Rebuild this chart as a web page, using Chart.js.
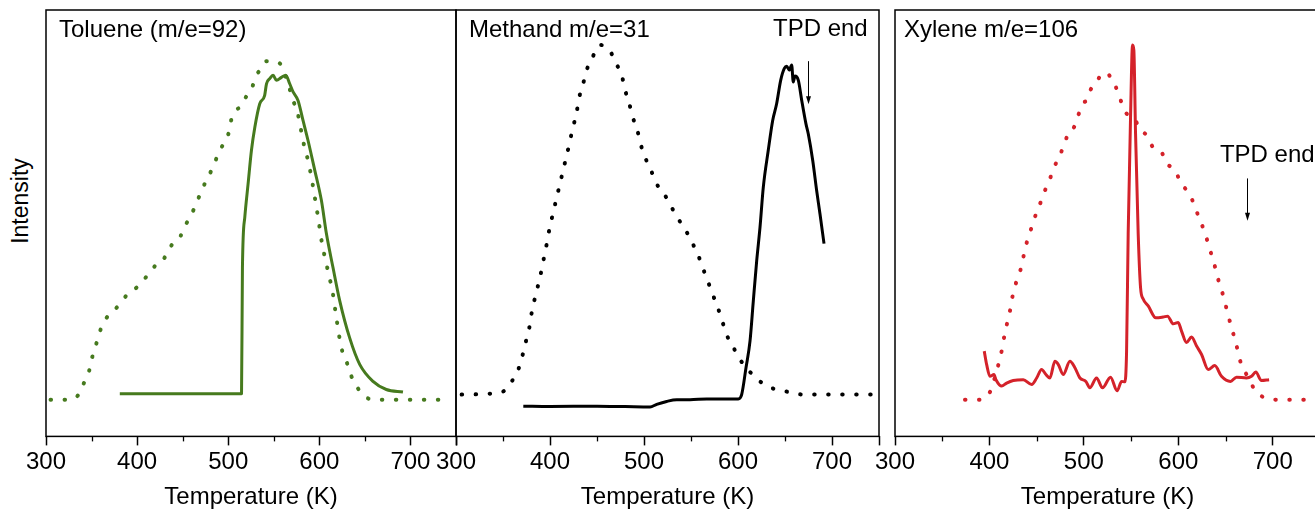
<!DOCTYPE html>
<html lang="en">
<head>
<meta charset="UTF-8" />
<title>TPD profiles</title>
<script src="https://cdn.jsdelivr.net/npm/chart.js"></script>
<style>
  html, body { margin: 0; padding: 0; background: #fff; overflow: hidden; }
  body { width: 1315px; height: 512px; position: relative; font-family: 'Liberation Sans', Arial, sans-serif; }
  canvas { position: absolute; top: 0; }
  #p1 { left: 0; }
  #p2 { left: 430px; }
  #p3 { left: 870px; }
  .ylabel {
    position: absolute; left: 20px; top: 201px;
    transform: translate(-50%, -50%) rotate(-90deg);
    font-size: 23px; white-space: nowrap; color: #000;
  }
</style>
</head>
<body>
<div class="ylabel">Intensity</div>
<canvas id="p1" width="480" height="512"></canvas>
<canvas id="p2" width="470" height="512"></canvas>
<canvas id="p3" width="480" height="512"></canvas>

<script>
// x axis ticks (K)
const majorTicks = [300, 400, 500, 600, 700, 750];
const minorTicks = [350, 450, 550, 650];

// Toluene (m/e=92)
const toluDotT = [305, 325, 335, 342, 347.5, 351, 355.6, 360, 366.5, 373.8, 381, 388.5, 399.4, 406.7, 414, 421.4, 428, 434, 441.4, 447.7, 452.4, 456, 462.3, 468, 473.2, 479, 485.3, 490.8, 498, 501.8, 503.6, 509.8, 513.5, 520, 526.6, 531, 536.5, 542, 548.5, 555.8, 563.9, 571.2, 576, 582.9, 587.6, 591.3, 595, 598.6, 603.4, 607, 610.7, 614.4, 618.7, 624.2, 630.4, 635.2, 642.5, 652.4, 665, 738];
const toluDotI = [8.6, 8.6, 9.6, 12.7, 15.5, 18.8, 22, 25.1, 27.8, 29.4, 31, 33.1, 34.9, 36.6, 38.4, 40.4, 41.2, 43.5, 45.9, 47, 49.4, 50.6, 53.3, 56.2, 58.8, 61.2, 64.3, 67.1, 69.8, 72.2, 74.5, 76.7, 77.3, 79.8, 82.1, 84.7, 86.3, 88, 87.8, 87.6, 83.9, 78.8, 76, 68.6, 64.7, 60.8, 56.1, 51.4, 44.7, 41.2, 37.6, 34.1, 27.8, 20.8, 17.2, 14.1, 11.2, 9, 8.6, 8.6];
const toluSolidT = [381, 514.6, 515.6, 518.2, 521.8, 525.5, 529.2, 534.6, 540, 542, 545.6, 549.2, 553, 558.4, 563.2, 567.5, 571.2, 576.6, 582.1, 587.6, 595, 602.3, 607.8, 615, 622.4, 633.3, 644.3, 658.9, 673.5, 691.8];
const toluSolidI = [10, 10, 39.6, 51.4, 59.2, 67.1, 72.5, 78, 80, 82.7, 83.9, 84.7, 83.5, 84.2, 84.7, 82.7, 80.8, 78.8, 74.1, 69.4, 62.4, 55.3, 47.5, 39.6, 31.8, 23.1, 16.9, 12.9, 11, 10.4];

// Methand m/e=31
const methDotT = [306, 348.6, 359.3, 366.3, 371, 374.5, 378, 380.5, 384, 387.6, 391.2, 394, 397.2, 400, 403.5, 407.1, 410.6, 414.2, 417.8, 421.3, 424.8, 428.4, 431.2, 435.5, 439, 445.4, 453.2, 463.8, 469.9, 476.3, 479.8, 484.4, 488, 492.9, 496.5, 501.1, 507.4, 513.5, 521.3, 529.4, 536.5, 544.7, 551.8, 557.8, 563.1, 568.4, 573.8, 579.1, 583.7, 588.6, 595.7, 602.9, 612, 623.4, 635.1, 650, 664.2, 676.6, 748];
const methDotI = [9.8, 10.4, 12.9, 15.7, 19.2, 22.4, 25.5, 29, 32.5, 35.7, 39.2, 42.4, 45.9, 49.4, 52.5, 56.1, 59.2, 62.7, 65.9, 69.4, 72.7, 76.1, 79.6, 82.9, 85.9, 89, 91.8, 90.4, 87.6, 84.7, 81.3, 78, 74.9, 71.8, 68.5, 65.5, 62.4, 59.2, 56.9, 53.7, 51, 48.2, 45.2, 42.4, 39.2, 36.1, 32.9, 29.8, 26.7, 23.5, 20.6, 17.8, 15.3, 12.9, 11.4, 10.6, 9.9, 9.8, 9.8];
const methSolidT = [371.6, 400, 450, 480, 506.4, 513.5, 524.1, 534.8, 549, 566.7, 600.3, 603.9, 608.5, 612.8, 616.3, 619.9, 623.4, 626.9, 632.2, 636.9, 641.1, 645.4, 649.3, 651.8, 654.6, 657.1, 658.8, 660.6, 664.2, 667.8, 672.3, 674.8, 679.5, 683.7, 687.2, 691.5];
const methSolidI = [7.1, 7.0, 7.1, 7.0, 6.9, 7.5, 8.2, 8.6, 8.6, 8.8, 8.8, 9.8, 16.1, 22.4, 31.8, 41.2, 49, 58.4, 67.1, 74.1, 78, 83.5, 86.3, 86.8, 85.9, 87.1, 83.1, 84.5, 83.5, 78.8, 73.3, 70.9, 64.7, 57.6, 52.2, 45.2];

// Xylene m/e=106
const xyleDotT = [374.1, 388.1, 400.5, 407.6, 412.9, 416.4, 421.7, 424.5, 428.8, 434.1, 437.6, 442.9, 448.1, 454.2, 458.7, 464, 469.3, 474.6, 479.9, 485.2, 488.7, 494, 499.3, 502.9, 507.1, 513.4, 520.4, 526.8, 533.9, 538.8, 545.2, 552.2, 559.3, 566.3, 573.3, 582.2, 586.8, 596.3, 603.4, 610.4, 615, 621, 628, 633.3, 637.6, 642.1, 647.4, 651.7, 656.3, 660.9, 665.1, 672.2, 681, 693.3, 709.2, 745];
const xyleDotI = [8.6, 8.6, 10.4, 15.3, 20, 24.3, 29.4, 32.9, 36.5, 40, 43.9, 47.8, 51.4, 54.9, 57.6, 60.4, 63.5, 65.9, 69, 71.8, 72.2, 75.3, 78.2, 78.8, 81.3, 83.1, 85.3, 84.7, 81.9, 78.9, 75.7, 74.9, 72.2, 70.6, 67.8, 66.7, 64.3, 62.4, 59.2, 57.3, 55.3, 51.8, 47.8, 43.9, 40.8, 36.9, 33.1, 29.4, 25.5, 22, 18, 14.5, 11, 8.9, 8.6, 8.6];
const xyleSolidT = [394.5, 397, 400.5, 404.8, 406.9, 412.9, 418.2, 425.2, 435.8, 444.7, 450, 455.2, 459.8, 464, 469.3, 472.8, 478.1, 485.2, 490.5, 495.8, 502.1, 506.3, 513.4, 519.7, 528.2, 535.2, 539.9, 543.4, 545.2, 546.9, 549.4, 551.5, 552.9, 554.7, 557.5, 560, 562.8, 568.1, 576.2, 584, 588.6, 594.6, 599.9, 603.4, 608.7, 614, 619.3, 624.6, 631.6, 638.6, 645.7, 655.2, 661.6, 672.2, 677.5, 682, 688, 696.1];
const xyleSolidI = [20, 16.9, 14.1, 14.5, 13.3, 11.8, 12.5, 13.1, 13.3, 12.2, 13.7, 15.7, 14.5, 13.7, 17.6, 16.9, 14.5, 17.6, 16.1, 13.7, 12.9, 11.4, 13.7, 11.4, 13.9, 10.7, 12.9, 12.8, 20, 47.5, 74.9, 91.8, 90.6, 71, 47.5, 34.9, 32.2, 30.6, 27.8, 28, 28.2, 26.4, 26.7, 24.7, 22, 23.3, 21.2, 19.2, 15.7, 16.6, 14.1, 12.9, 13.9, 13.7, 14.1, 15.1, 13.1, 13.3];

const FONT = "'Liberation Sans', Arial, sans-serif";
Chart.defaults.font.family = FONT;
Chart.defaults.font.size = 24;
Chart.defaults.color = '#000';

function pts(t, v) {
  return t.map((x, i) => ({ x: x, y: v[i] }));
}

function dotted(t, v, color) {
  return {
    data: pts(t, v), borderColor: color, borderWidth: 4,
    borderDash: [0.5, 13.5], borderCapStyle: 'round',
    pointRadius: 0, cubicInterpolationMode: 'monotone', fill: false
  };
}

function solid(t, v, color) {
  return {
    data: pts(t, v), borderColor: color, borderWidth: 3,
    pointRadius: 0, cubicInterpolationMode: 'monotone', fill: false,
    borderJoinStyle: 'round'
  };
}

// box round the plot area, minor ticks, panel label, "TPD end" arrow
const framePlugin = {
  id: 'frame',
  afterDraw(chart, args, opts) {
    const { ctx, chartArea: a } = chart;
    const xs = chart.scales.x, ys = chart.scales.y;
    ctx.save();
    ctx.strokeStyle = '#000';
    ctx.lineWidth = 1.5;
    ctx.strokeRect(a.left, a.top, a.right - a.left, a.bottom - a.top);

    ctx.lineWidth = 1.3;
    minorTicks.forEach(v => {
      const px = Math.round(xs.getPixelForValue(v)) + 0.5;
      ctx.beginPath();
      ctx.moveTo(px, a.bottom);
      ctx.lineTo(px, a.bottom + 5);
      ctx.stroke();
    });

    ctx.fillStyle = '#000';
    ctx.font = '24px ' + FONT;
    ctx.textBaseline = 'middle';
    ctx.textAlign = 'left';
    ctx.fillText(opts.label, a.left + opts.labelDx, a.top + 20);

    if (opts.tpd) {
      const t = opts.tpd;
      ctx.textAlign = t.align;
      ctx.fillText('TPD end', xs.getPixelForValue(t.textT), ys.getPixelForValue(t.textI));
      const ax = Math.round(xs.getPixelForValue(t.arrowT)) + 0.5;
      const y1 = ys.getPixelForValue(t.arrowFrom), y2 = ys.getPixelForValue(t.arrowTo);
      ctx.lineWidth = 1;
      ctx.beginPath();
      ctx.moveTo(ax, y1);
      ctx.lineTo(ax, y2 - 6);
      ctx.stroke();
      ctx.beginPath();
      ctx.moveTo(ax - 2.5, y2 - 8);
      ctx.lineTo(ax + 2.5, y2 - 8);
      ctx.lineTo(ax, y2);
      ctx.closePath();
      ctx.fill();
    }
    ctx.restore();
  }
};

function makePanel(id, datasets, padL, padR, frameOpts) {
  return new Chart(document.getElementById(id), {
    type: 'line',
    data: { datasets: datasets },
    plugins: [framePlugin],
    options: {
      responsive: false,
      animation: false,
      layout: { padding: { left: padL, right: padR, top: 10, bottom: 0 } },
      plugins: {
        legend: { display: false },
        tooltip: { enabled: false },
        frame: frameOpts
      },
      scales: {
        x: {
          type: 'linear', min: 300, max: 750,
          afterBuildTicks: s => { s.ticks = majorTicks.map(v => ({ value: v })); },
          ticks: {
            color: '#000', padding: 3, maxRotation: 0, autoSkip: false,
            callback: v => (v === 750 ? '' : String(v))
          },
          grid: {
            drawOnChartArea: false, drawTicks: true, tickLength: 9,
            tickColor: '#000', tickWidth: 1.5
          },
          border: { display: false },
          title: {
            display: true, text: 'Temperature (K)', color: '#000',
            padding: { top: 3, bottom: 0 }
          }
        },
        y: { display: false, min: 0, max: 100 }
      }
    }
  });
}

const GREEN = '#467a1e', BLACK = '#000000', RED = '#d4222a';

makePanel('p1', [
  dotted(toluDotT, toluDotI, GREEN),
  solid(toluSolidT, toluSolidI, GREEN)
], 46, 24, { label: 'Toluene (m/e=92)', labelDx: 13 });

makePanel('p2', [
  dotted(methDotT, methDotI, BLACK),
  solid(methSolidT, methSolidI, BLACK)
], 26, 21, {
  label: 'Methand m/e=31', labelDx: 13,
  tpd: { textT: 738, textI: 95.5, align: 'right', arrowT: 674.5, arrowFrom: 88, arrowTo: 77.9 }
});

makePanel('p3', [
  dotted(xyleDotT, xyleDotI, RED),
  solid(xyleSolidT, xyleSolidI, RED)
], 25, 30, {
  label: 'Xylene m/e=106', labelDx: 9,
  tpd: { textT: 644, textI: 65.9, align: 'left', arrowT: 673.2, arrowFrom: 60.5, arrowTo: 50.6 }
});
</script>
</body>
</html>
